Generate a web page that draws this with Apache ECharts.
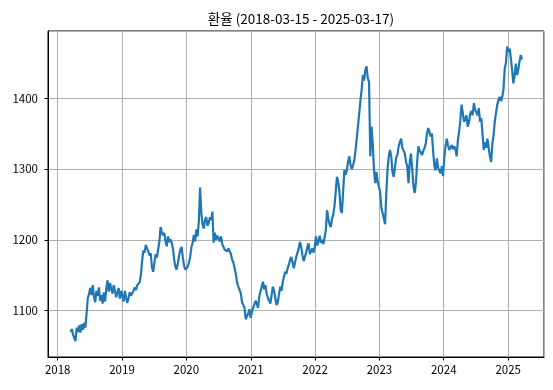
<!DOCTYPE html>
<html>
<head>
<meta charset="utf-8">
<script src="https://cdn.jsdelivr.net/npm/echarts@6/dist/echarts.min.js"></script>
<style>
html,body{margin:0;padding:0;background:#fff;}
#c{width:553px;height:390px;}
</style>
</head>
<body>
<div id="c"></div>
<script>
const chartTitle = '환율 (2018-03-15 - 2025-03-17)';
const yTickValues = [1100, 1200, 1300, 1400];
const xTickYears = [2018, 2019, 2020, 2021, 2022, 2023, 2024, 2025];

// weekly closes (Thursdays), each block starts on the given date
const start2018 = '2018-03-15';
const rate2018 = [1070,1074,1066, 1068,1057,1076,1070, 1079,1069,1081,1073,1083, 1076,1096,1118,1124,
  1132,1122,1136,1120, 1112,1128,1121,1133,1114, 1122,1110,1126,1113, 1131,1143,1127,1139,
  1131,1124,1136,1128,1119, 1126,1132,1117,1128];
const start2019 = '2019-01-03';
const rate2019 = [1121,1113,1128,1119,1111, 1118,1126,1121,1119, 1128,1133,1129,1136, 1136,1140,1150,1170,
  1185,1182,1193,1188,1184, 1178,1181,1161,1155, 1168,1180,1175,1186, 1197,1218,1211,1206,1210,
  1198,1191,1205,1197, 1201,1196,1188,1172,1162, 1158,1167,1178,1186, 1190,1176,1164,1158];
const start2020 = '2020-01-02';
const rate2020 = [1158,1162,1168,1176,1190, 1196,1207,1198,1215, 1205,1226,1274,1238, 1222,1216,1228,1232,1220,
  1224,1232,1228,1240, 1196,1210,1200,1206, 1205,1198,1205,1194,1190, 1186,1188,1184,1188,
  1186,1180,1172,1168, 1160,1152,1140,1134,1136, 1125,1112,1110,1105, 1088,1092,1096,1102,1090];
const start2021 = '2021-01-07';
const rate2021 = [1098,1104,1102,1114, 1110,1104,1120,1118, 1134,1141,1130,1136, 1124,1118,1116,1110,1112,
  1134,1128,1118,1108, 1112,1114,1134,1128, 1140,1148,1155,1152,1160, 1165,1172,1176,1168,
  1160,1168,1176,1182,1188, 1197,1190,1178,1170, 1176,1182,1190,1195, 1180,1184,1188,1182,1190];
const start2022 = '2022-01-06';
const rate2022 = [1205,1192,1198,1206, 1196,1200,1194,1204, 1214,1242,1230,1222,1218, 1230,1236,1248,1268,
  1289,1282,1268,1242, 1238,1268,1299,1292,1298, 1310,1318,1306,1300, 1305,1312,1326,1343,
  1360,1378,1396,1412,1433, 1425,1440,1445,1428, 1423,1318,1360,1336, 1300,1280,1296,1282,1275];
const start2023 = '2023-01-05';
const rate2023 = [1268,1245,1238,1230, 1222,1266,1300,1318, 1327,1318,1296,1289,1302, 1316,1320,1332,1338,
  1343,1330,1326,1322, 1310,1304,1280,1310,1322, 1300,1276,1266,1280, 1310,1332,1326,1328,1320,
  1326,1330,1336,1350, 1358,1352,1346,1350, 1324,1304,1298,1315,1302, 1298,1294,1304,1290];
const start2024 = '2024-01-04';
const rate2024 = [1316,1332,1343,1334, 1327,1330,1334,1328,1332, 1329,1318,1340,1353, 1368,1391,1380,1367,
  1370,1376,1360,1366,1378, 1382,1376,1393,1384, 1380,1376,1386,1367, 1372,1350,1327,1338,1330,
  1343,1330,1318,1310, 1336,1348,1368,1380,1391, 1398,1402,1396,1402, 1412,1442,1450,1473];
const start2025 = '2025-01-02';
const rate2025 = [1466,1470,1456,1440,1421, 1432,1449,1433,1440, 1452,1461,1455];

const blocks = [
  [start2018, rate2018], [start2019, rate2019], [start2020, rate2020], [start2021, rate2021],
  [start2022, rate2022], [start2023, rate2023], [start2024, rate2024], [start2025, rate2025]
];
const DAY = 86400000;
const seriesData = [];
blocks.forEach(([s, vals]) => {
  const t0 = Date.parse(s + 'T00:00:00Z');
  vals.forEach((v, i) => seriesData.push([t0 + i * 7 * DAY, v]));
});

const xMin = Date.parse('2017-11-07T00:00:00Z');
const xMax = Date.parse('2025-07-23T00:00:00Z');
const yMin = 1034.6, yMax = 1495;

const chart = echarts.init(document.getElementById('c'), null, {renderer: 'canvas'});
const font = '"Noto Sans CJK KR", "Noto Sans", sans-serif';
chart.setOption({
  animation: false,
  backgroundColor: '#fff',
  title: {
    text: chartTitle,
    left: 296, top: 7, textAlign: 'center',
    textStyle: {fontFamily: font, fontSize: 13.5, fontWeight: 'normal', color: '#000'}
  },
  grid: {left: 48, right: 9, top: 31, bottom: 33, show: true, borderColor: '#000', borderWidth: 1, containLabel: false},
  xAxis: {
    type: 'time', min: xMin, max: xMax,
    minInterval: 365 * DAY, maxInterval: 366 * DAY,
    axisLine: {show: true, lineStyle: {color: '#000', width: 1}},
    axisTick: {show: true, length: 3.5, lineStyle: {color: '#000'}},
    splitLine: {show: true, lineStyle: {color: '#b0b0b0', width: 1}},
    axisLabel: {
      color: '#000', fontFamily: font, fontSize: 11.5, margin: 7,
      showMinLabel: false, showMaxLabel: false,
      formatter: function (v) {
        const y = new Date(v).getUTCFullYear();
        return xTickYears.indexOf(y) >= 0 ? String(y) : '';
      }
    }
  },
  yAxis: {
    type: 'value', min: yMin, max: yMax, splitNumber: 5,
    axisLine: {show: true, lineStyle: {color: '#000', width: 1}},
    axisTick: {show: true, length: 3.5, lineStyle: {color: '#000'}},
    splitLine: {show: true, lineStyle: {color: '#b0b0b0', width: 1}},
    axisLabel: {
      color: '#000', fontFamily: font, fontSize: 11.5, margin: 10,
      showMinLabel: false, showMaxLabel: false,
      formatter: function (v) { return yTickValues.indexOf(Math.round(v)) >= 0 ? String(Math.round(v)) : ''; }
    }
  },
  series: [{
    type: 'line', data: seriesData, showSymbol: false,
    lineStyle: {color: '#1f77b4', width: 2.2}, itemStyle: {color: '#1f77b4'}
  }]
});
</script>
</body>
</html>
